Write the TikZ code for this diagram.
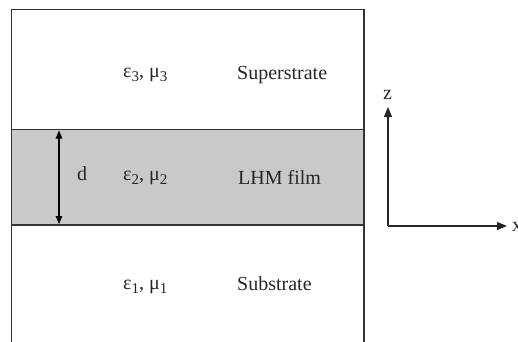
\documentclass[tikz,border=0pt]{standalone}
\usepackage{fontspec}
\setmainfont{Liberation Serif}
\usetikzlibrary{arrows.meta}
\definecolor{film}{HTML}{C8C9CB}
\definecolor{edge}{HTML}{333333}
\newcommand{\lowsub}[1]{\raisebox{-4.5pt}{\fontsize{15}{15}\selectfont #1}}
\tikzset{
  lbl/.style={anchor=base west, inner sep=0pt, font=\fontsize{20}{24}\selectfont, text=black!85},
  wall/.style={draw=edge, line width=1.4pt},
  axis/.style={draw=black!85, line width=1.2pt, -{Triangle[length=10pt,width=8pt]}},
  dim/.style={draw=black, line width=1.2pt, {Triangle[length=8pt,width=6.5pt]}-{Triangle[length=8pt,width=6.5pt]}}
}
\begin{document}
\begin{tikzpicture}[x=1pt,y=-1pt]
\useasboundingbox (0,0) rectangle (518,341);
% film
\fill[film] (11.7,129.5) rectangle (364,225);
% outer walls
\draw[wall] (11.7,345) -- (11.7,9.3) -- (364,9.3) -- (364,345);
\draw[wall] (11.7,129.5) -- (364,129.5);
\draw[wall] (11.7,225) -- (364,225);
% dimension d
\coordinate (dtop) at (59,130.5);
\coordinate (dbot) at (59,224);
\draw[dim] (dtop) -- (dbot);
\node[lbl] (d) at (77,180) {d};
% labels
\node[lbl] (e3) at (123,77) {ε\lowsub{3}, μ\lowsub{3}};
\node[lbl] (e2) at (123,180) {ε\lowsub{2}, μ\lowsub{2}};
\node[lbl] (e1) at (123,289) {ε\lowsub{1}, μ\lowsub{1}};
\node[lbl] (sup) at (237,79) {Superstrate};
\node[lbl] (lhm) at (238,184) {LHM film};
\node[lbl] (sub) at (237,290) {Substrate};
% axes
\coordinate (o) at (388,226);
\coordinate (zt) at (388,107);
\coordinate (xt) at (507,226);
\draw[axis] (o) -- (zt);
\draw[axis] (o) -- (xt);
\node[lbl] (zl) at (383,99) {z};
\node[lbl] (xl) at (512,231) {x};
\end{tikzpicture}
\end{document}
